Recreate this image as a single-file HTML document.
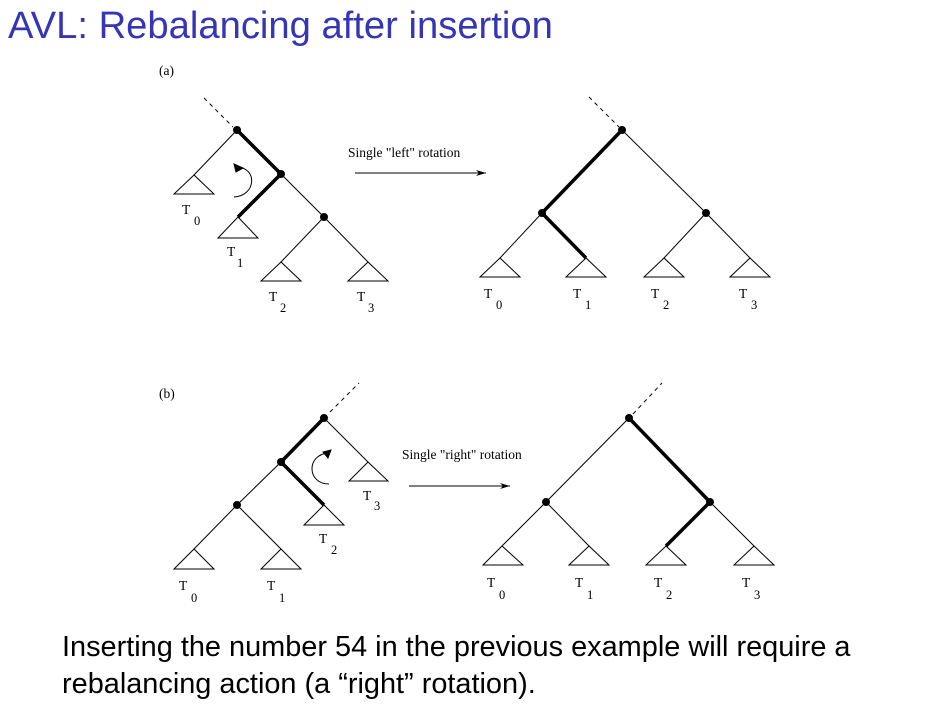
<!DOCTYPE html>
<html><head><meta charset="utf-8"><style>
html,body{margin:0;padding:0;background:#fff;width:925px;height:708px;overflow:hidden}
svg{position:absolute;left:0;top:0}
.t{font-family:"Liberation Serif",serif;font-size:13.5px;fill:#000}
.s{font-family:"Liberation Serif",serif;font-size:12.5px;fill:#000}
</style></head><body>
<svg width="925" height="708">
<defs><marker id="ah" markerWidth="10" markerHeight="6" refX="10" refY="3" orient="auto"><path d="M0,0 L10,3 L0,6 L3,3z" fill="#000"/></marker></defs>
<text x="8" y="38" font-family="Liberation Sans,sans-serif" font-size="38.2" fill="#3535b5">AVL: Rebalancing after insertion</text>
<text x="159" y="75" class="t">(a)</text>
<text x="159" y="398" class="t">(b)</text>

<g stroke="#000" fill="none" stroke-width="1">
<line x1="204" y1="98" x2="233" y2="127" stroke-dasharray="4,4"/>
<line x1="237" y1="130" x2="194" y2="175"/>
<line x1="237" y1="130" x2="281" y2="174" stroke-width="3.5"/>
<line x1="281" y1="174" x2="238" y2="217" stroke-width="3.5"/>
<line x1="281" y1="174" x2="324" y2="217"/>
<line x1="324" y1="217" x2="281" y2="262"/>
<line x1="324" y1="217" x2="368" y2="262"/>
<path d="M194,175 L174,194 L214,194 Z"/>
<path d="M238,217 L218,238 L258,238 Z"/>
<path d="M281,262 L261,281 L301,281 Z"/>
<path d="M368,262 L348,281 L388,281 Z"/>
<path d="M237,167 C258,168 256,196 234,197"/>
<path d="M234,164 L243,168 L236,172 Z" fill="#000"/>
<circle cx="237" cy="130" r="3.5" fill="#000"/><circle cx="281" cy="174" r="3.5" fill="#000"/><circle cx="324" cy="217" r="3.5" fill="#000"/>
</g>
<g>
<text x="182" y="214" class="t">T</text><text x="194" y="225" class="s">0</text>
<text x="227" y="256" class="t">T</text><text x="237" y="267" class="s">1</text>
<text x="269" y="301" class="t">T</text><text x="280" y="312" class="s">2</text>
<text x="357" y="301" class="t">T</text><text x="368" y="312" class="s">3</text>
</g>
<text x="348" y="157" class="t">Single "left" rotation</text>
<line x1="355" y1="173" x2="486" y2="173" stroke="#000" marker-end="url(#ah)"/>

<g stroke="#000" fill="none" stroke-width="1">
<line x1="589" y1="97" x2="619" y2="127" stroke-dasharray="4,4"/>
<line x1="622" y1="130" x2="542" y2="213" stroke-width="3.5"/>
<line x1="622" y1="130" x2="706" y2="213"/>
<line x1="542" y1="213" x2="500" y2="258"/>
<line x1="542" y1="213" x2="586" y2="258" stroke-width="3.5"/>
<line x1="706" y1="213" x2="664" y2="258"/>
<line x1="706" y1="213" x2="750" y2="258"/>
<path d="M500,258 L480,277 L520,277 Z"/>
<path d="M586,258 L566,277 L606,277 Z"/>
<path d="M664,258 L644,277 L684,277 Z"/>
<path d="M750,258 L730,277 L770,277 Z"/>
<circle cx="622" cy="130" r="3.5" fill="#000"/><circle cx="542" cy="213" r="3.5" fill="#000"/><circle cx="706" cy="213" r="3.5" fill="#000"/>
</g>
<g>
<text x="484" y="298" class="t">T</text><text x="496" y="309" class="s">0</text>
<text x="573" y="298" class="t">T</text><text x="585" y="309" class="s">1</text>
<text x="651" y="298" class="t">T</text><text x="663" y="309" class="s">2</text>
<text x="739" y="298" class="t">T</text><text x="751" y="309" class="s">3</text>
</g>

<g stroke="#000" fill="none" stroke-width="1">
<line x1="330" y1="412" x2="359" y2="383" stroke-dasharray="4,4"/>
<line x1="324" y1="418" x2="368" y2="462"/>
<line x1="324" y1="418" x2="281" y2="462" stroke-width="3.5"/>
<line x1="281" y1="462" x2="324" y2="505" stroke-width="3.5"/>
<line x1="281" y1="462" x2="237" y2="505"/>
<line x1="237" y1="505" x2="194" y2="549"/>
<line x1="237" y1="505" x2="281" y2="549"/>
<path d="M368,462 L349,481 L388,481 Z"/>
<path d="M324,505 L304,525 L344,525 Z"/>
<path d="M194,549 L174,569 L214,569 Z"/>
<path d="M281,549 L261,569 L301,569 Z"/>
<path d="M328,453 C306,455 307,484 329,484"/>
<path d="M331,450 L323,452 L328,458 Z" fill="#000"/>
<circle cx="324" cy="418" r="3.5" fill="#000"/><circle cx="281" cy="462" r="3.5" fill="#000"/><circle cx="237" cy="505" r="3.5" fill="#000"/>
</g>
<g>
<text x="363" y="500" class="t">T</text><text x="374" y="510" class="s">3</text>
<text x="319" y="543" class="t">T</text><text x="331" y="554" class="s">2</text>
<text x="179" y="590" class="t">T</text><text x="191" y="602" class="s">0</text>
<text x="267" y="590" class="t">T</text><text x="279" y="602" class="s">1</text>
</g>
<text x="402" y="459" class="t">Single "right" rotation</text>
<line x1="409" y1="486" x2="510" y2="486" stroke="#000" marker-end="url(#ah)"/>

<g stroke="#000" fill="none" stroke-width="1">
<line x1="633" y1="414" x2="662" y2="383" stroke-dasharray="4,4"/>
<line x1="629" y1="418" x2="546" y2="502"/>
<line x1="629" y1="418" x2="710" y2="502" stroke-width="3.5"/>
<line x1="546" y1="502" x2="502" y2="546"/>
<line x1="546" y1="502" x2="589" y2="546"/>
<line x1="710" y1="502" x2="666" y2="546" stroke-width="3.5"/>
<line x1="710" y1="502" x2="754" y2="546"/>
<path d="M502,546 L483,565 L523,565 Z"/>
<path d="M589,546 L569,565 L609,565 Z"/>
<path d="M666,546 L646,565 L686,565 Z"/>
<path d="M754,546 L734,565 L774,565 Z"/>
<circle cx="629" cy="418" r="3.5" fill="#000"/><circle cx="546" cy="502" r="3.5" fill="#000"/><circle cx="710" cy="502" r="3.5" fill="#000"/>
</g>
<g>
<text x="487" y="587" class="t">T</text><text x="499" y="599" class="s">0</text>
<text x="575" y="587" class="t">T</text><text x="587" y="599" class="s">1</text>
<text x="654" y="587" class="t">T</text><text x="666" y="599" class="s">2</text>
<text x="742" y="587" class="t">T</text><text x="754" y="599" class="s">3</text>
</g>

<text font-family="Liberation Sans,sans-serif" font-size="28.9" fill="#000">
<tspan x="62" y="656">Inserting the number 54 in the previous example will require a</tspan>
<tspan x="62" y="693">rebalancing action (a “right” rotation).</tspan>
</text>
</svg>
</body></html>
